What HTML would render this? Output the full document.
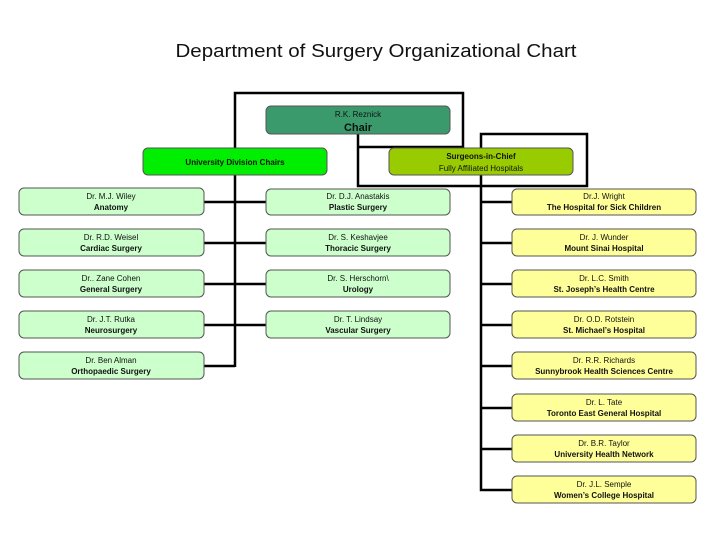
<!DOCTYPE html>
<html><head><meta charset="utf-8"><style>
html,body{margin:0;padding:0;background:#fff}
svg{display:block}
text{font-family:"Liberation Sans",Arial,sans-serif;text-anchor:middle;fill:#111}
.a{font-size:8px}
.b{font-size:8px;font-weight:bold}
</style></head><body>
<svg width="728" height="546" viewBox="0 0 728 546">
<text x="376" y="57" style="font-size:18px" textLength="401" lengthAdjust="spacingAndGlyphs">Department of Surgery Organizational Chart</text>
<g stroke="#000" stroke-width="2.5" fill="none">
<polyline points="235,367 235,93 463,93 463,147 358,147"/>
<polyline points="358,134 358,186 587,186 587,134 481,134 481,490 512,490"/>
<line x1="204" y1="202" x2="266" y2="202"/>
<line x1="204" y1="243" x2="266" y2="243"/>
<line x1="204" y1="284" x2="266" y2="284"/>
<line x1="204" y1="325" x2="266" y2="325"/>
<line x1="204" y1="366" x2="235" y2="366"/>
<line x1="481" y1="202" x2="512" y2="202"/>
<line x1="481" y1="243" x2="512" y2="243"/>
<line x1="481" y1="284" x2="512" y2="284"/>
<line x1="481" y1="325" x2="512" y2="325"/>
<line x1="481" y1="366" x2="512" y2="366"/>
<line x1="481" y1="408" x2="512" y2="408"/>
<line x1="481" y1="449" x2="512" y2="449"/>
</g>
<g stroke="#555" stroke-width="1">
<rect x="266" y="106" width="184" height="28" rx="5" fill="#3a9a6c"/>
<rect x="143" y="148" width="184" height="27" rx="5" fill="#00ee00"/>
<rect x="389" y="148" width="184" height="27" rx="5" fill="#99cc00"/>
</g>
<text class="a" x="358" y="117">R.K. Reznick</text>
<text x="358" y="131" style="font-size:11px;font-weight:bold">Chair</text>
<text class="b" x="235" y="165">University Division Chairs</text>
<text class="b" x="481" y="159">Surgeons-in-Chief</text>
<text class="a" x="481" y="171">Fully Affiliated Hospitals</text>
<g stroke="#555" stroke-width="1" fill="#ccffcc">
<rect x="19" y="188" width="185" height="27" rx="5"/>
<rect x="19" y="229" width="185" height="27" rx="5"/>
<rect x="19" y="270" width="185" height="27" rx="5"/>
<rect x="19" y="311" width="185" height="27" rx="5"/>
<rect x="19" y="352" width="185" height="27" rx="5"/>
<rect x="266" y="189" width="184" height="26" rx="5"/>
<rect x="266" y="229" width="184" height="27" rx="5"/>
<rect x="266" y="270" width="184" height="27" rx="5"/>
<rect x="266" y="311" width="184" height="27" rx="5"/>
</g>
<g stroke="#555" stroke-width="1" fill="#ffff99">
<rect x="512" y="189" width="184" height="26" rx="5"/>
<rect x="512" y="229" width="184" height="27" rx="5"/>
<rect x="512" y="270" width="184" height="27" rx="5"/>
<rect x="512" y="311" width="184" height="27" rx="5"/>
<rect x="512" y="352" width="184" height="27" rx="5"/>
<rect x="512" y="394" width="184" height="27" rx="5"/>
<rect x="512" y="435" width="184" height="27" rx="5"/>
<rect x="512" y="476" width="184" height="27" rx="5"/>
</g>
<g>
<text class="a" x="111" y="199">Dr. M.J. Wiley</text><text class="b" x="111" y="210">Anatomy</text>
<text class="a" x="111" y="240">Dr. R.D. Weisel</text><text class="b" x="111" y="251">Cardiac Surgery</text>
<text class="a" x="111" y="281">Dr.. Zane Cohen</text><text class="b" x="111" y="292">General Surgery</text>
<text class="a" x="111" y="322">Dr. J.T. Rutka</text><text class="b" x="111" y="333">Neurosurgery</text>
<text class="a" x="111" y="363">Dr. Ben Alman</text><text class="b" x="111" y="374">Orthopaedic Surgery</text>
<text class="a" x="358" y="199">Dr. D.J. Anastakis</text><text class="b" x="358" y="210">Plastic Surgery</text>
<text class="a" x="358" y="240">Dr. S. Keshavjee</text><text class="b" x="358" y="251">Thoracic Surgery</text>
<text class="a" x="358" y="281">Dr. S. Herschorn\</text><text class="b" x="358" y="292">Urology</text>
<text class="a" x="358" y="322">Dr. T. Lindsay</text><text class="b" x="358" y="333">Vascular Surgery</text>
<text class="a" x="604" y="199">Dr.J. Wright</text><text class="b" x="604" y="210">The Hospital for Sick Children</text>
<text class="a" x="604" y="240">Dr. J. Wunder</text><text class="b" x="604" y="251">Mount Sinai Hospital</text>
<text class="a" x="604" y="281">Dr. L.C. Smith</text><text class="b" x="604" y="292">St. Joseph’s Health Centre</text>
<text class="a" x="604" y="322">Dr. O.D. Rotstein</text><text class="b" x="604" y="333">St. Michael’s Hospital</text>
<text class="a" x="604" y="363">Dr. R.R. Richards</text><text class="b" x="604" y="374">Sunnybrook Health Sciences Centre</text>
<text class="a" x="604" y="405">Dr. L. Tate</text><text class="b" x="604" y="416">Toronto East General Hospital</text>
<text class="a" x="604" y="446">Dr. B.R. Taylor</text><text class="b" x="604" y="457">University Health Network</text>
<text class="a" x="604" y="487">Dr. J.L. Semple</text><text class="b" x="604" y="498">Women’s College Hospital</text>
</g>
</svg>
</body></html>
